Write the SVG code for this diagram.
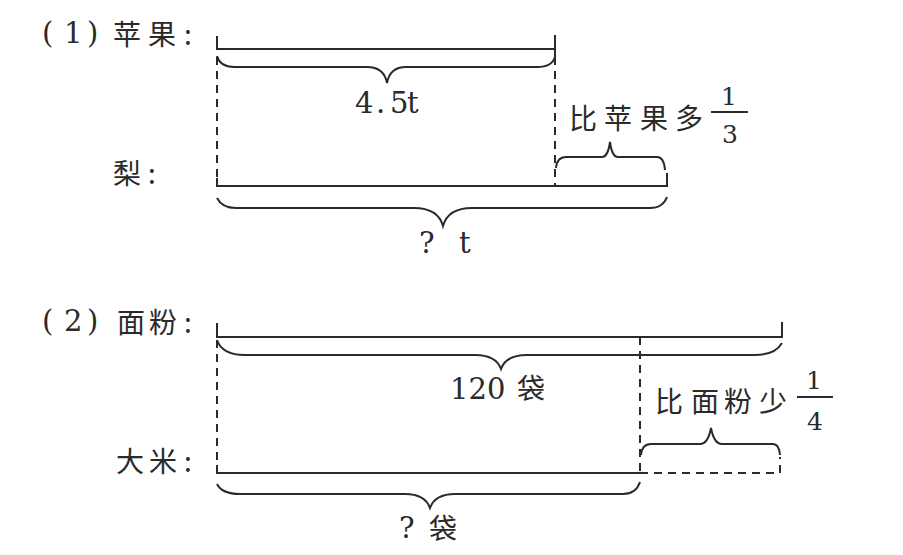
<svg xmlns="http://www.w3.org/2000/svg" width="903" height="555" viewBox="0 0 903 555">
<style>
.ln{fill:none;stroke:#2a2a2a;stroke-width:2}
.ds{fill:none;stroke:#2a2a2a;stroke-width:2;stroke-dasharray:8 6}
.cn{font-family:'Noto Sans CJK SC',sans-serif;font-size:28px;fill:#2a2a2a}
.nm{font-family:'DejaVu Serif','Liberation Serif',serif;font-size:29px;fill:#2a2a2a}
.fr{font-family:'DejaVu Serif','Liberation Serif',serif;font-size:25px;fill:#2a2a2a;text-anchor:middle}
</style>
<rect width="903" height="555" fill="#ffffff"/>
<g id="part1-labels">
<text class="nm" x="42 64 87" y="43">(1)</text>
<text class="cn" x="113 148 184" y="45">苹果:</text>
<text class="cn" x="113 148" y="184">梨:</text>
</g>
<g id="apple-bar">
<path class="ln" d="M217,36 L217,49 L555,49 M555,35 L555,57"/>
</g>
<g id="pear-bar">
<path class="ln" d="M217,178 L217,186 L667,186 L667,173"/>
</g>
<g id="part2-labels">
<text class="nm" x="42 64 87" y="331">(2)</text>
<text class="cn" x="117 149 184" y="333">面粉:</text>
<text class="cn" x="116 149 184" y="472">大米:</text>
</g>
<g id="flour-bar">
<path class="ln" d="M217,323 L217,337 L782,337 L782,322"/>
</g>
<g id="rice-bar">
<path class="ln" d="M217,465 L217,473 L640,473"/>
<path class="ds" d="M640,473 L780,473 L780,457"/>
</g>
<g id="connectors">
<path class="ds" d="M217,57 L217,178"/>
<path class="ds" d="M555,57 L555,186"/>
<path class="ds" d="M217,340 L217,465"/>
<path class="ds" d="M640,337 L640,473"/>
<path class="ln" d="M217,56 Q220,67 234,67 L367,67 Q384,67 387,83 Q390,67 406,67 L537,67 Q552,67 555,57"/>
<path class="ln" d="M217,198 Q222,208 236,208 L414,208 Q438,208 443,226 Q448,208 472,208 L650,208 Q663,208 667,197"/>
<path class="ln" d="M556,168 Q557,157 566,157 L602,157 Q608,157 610,142 Q612,157 618,157 L657,157 Q664,157 665,170"/>
<path class="ln" d="M217,340 Q222,355 245,355 L475,355 Q496,355 501,369 Q506,355 527,355 L755,355 Q775,355 782,343"/>
<path class="ln" d="M217,484 Q222,494 240,494 L405,494 Q425,494 430,508 Q435,494 455,494 L623,494 Q636,494 640,482"/>
<path class="ln" d="M641,455 Q642,444 651,444 L700,444 Q708,444 711,428 Q714,444 722,444 L773,444 Q779,444 780,455"/>
</g>
<g id="label-apple">
<text class="nm" x="355 376 390 407" y="113">4.5t</text>
</g>
<g id="label-pear">
<text class="nm" x="419" y="253">?</text>
<text class="nm" x="459" y="253">t</text>
</g>
<g id="label-more">
<text class="cn" x="569 604 640 675" y="129">比苹果多</text>
<text class="fr" x="729" y="105">1</text>
<path class="ln" d="M711,112 L748,112"/>
<text class="fr" x="730" y="143">3</text>
</g>
<g id="label-flour">
<text class="nm" x="450" y="399">120</text>
<text class="cn" x="517" y="399">袋</text>
</g>
<g id="label-rice">
<text class="nm" x="399" y="538">?</text>
<text class="cn" x="429" y="539">袋</text>
</g>
<g id="label-less">
<text class="cn" x="655 691 724 759" y="412">比面粉少</text>
<text class="fr" x="814" y="389">1</text>
<path class="ln" d="M797,397 L833,397"/>
<text class="fr" x="815" y="430">4</text>
</g>
</svg>
